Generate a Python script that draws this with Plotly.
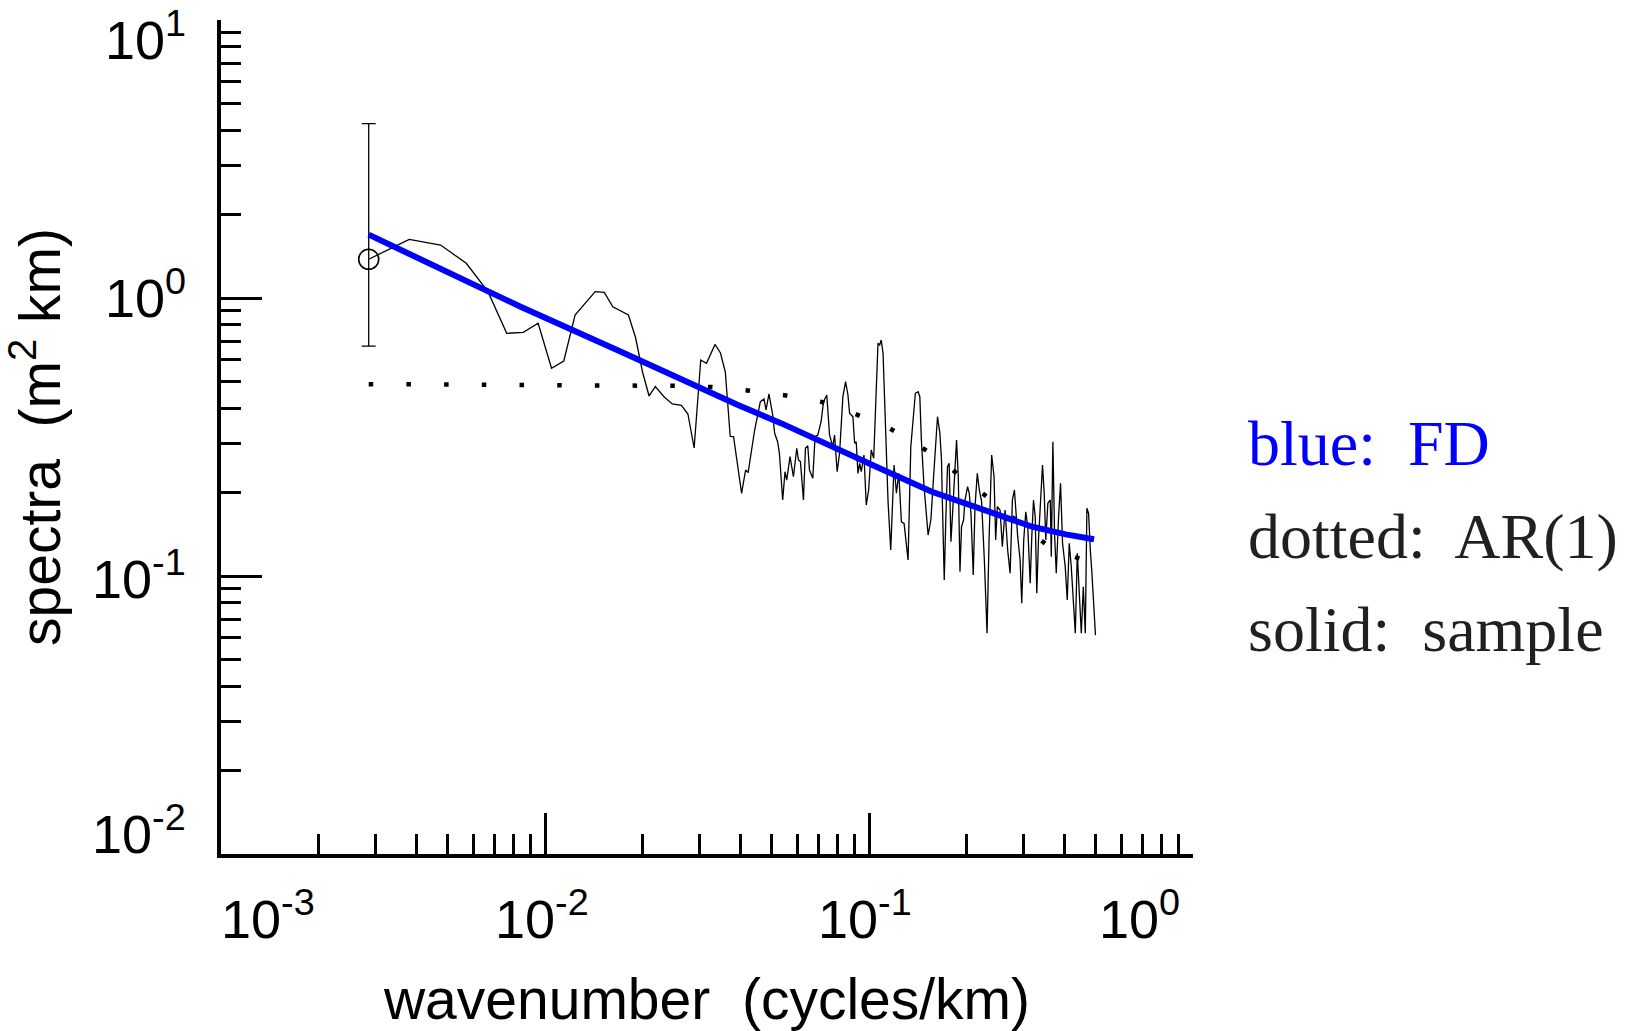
import plotly.graph_objects as go

# ---------------- data ----------------
# sample spectrum (solid black)
sample_k_a = [0.002857, 0.003810, 0.004762, 0.005714, 0.006667, 0.007619, 0.008571, 0.009524, 0.010476, 0.011429,
              0.012381, 0.014286, 0.015238, 0.016190, 0.018095, 0.019048, 0.020000, 0.020952, 0.021905, 0.02333,
              0.02472, 0.02636, 0.02761, 0.02886, 0.03025, 0.03151, 0.03347, 0.03480, 0.03602, 0.03730,
              0.03819, 0.04043, 0.04161, 0.04236, 0.04437, 0.04620, 0.04741, 0.04810, 0.04912, 0.05044,
              0.05115, 0.05226]
sample_s_a = [1.378, 1.626, 1.551, 1.333, 1.054, 0.7464, 0.7526, 0.8110, 0.5587, 0.5934,
              0.8685, 1.054, 1.047, 0.9304, 0.8685, 0.7179, 0.5418, 0.4442, 0.4797, 0.4405,
              0.4157, 0.4106, 0.3826, 0.2887, 0.5984, 0.5822, 0.6805, 0.6342, 0.5418, 0.3176,
              0.3171, 0.1984, 0.2406, 0.2356, 0.3351, 0.4236, 0.4332, 0.3955, 0.4516, 0.3794,
              0.3262, 0.3034]
sample_k_b = [0.05290, 0.05415, 0.05505, 0.05573, 0.05705, 0.05845, 0.05985, 0.06057, 0.06143, 0.06276,
              0.06367, 0.06472, 0.06551, 0.06707, 0.06817, 0.06950, 0.07115, 0.07237, 0.07409, 0.07554,
              0.07733, 0.07829, 0.07974, 0.08113, 0.08306, 0.08467, 0.08610, 0.08713, 0.08920, 0.09029,
              0.09131, 0.09244, 0.09357, 0.09464, 0.09648, 0.09807, 0.09975, 0.1016, 0.1034, 0.1053,
              0.1066, 0.1079, 0.1091, 0.1105, 0.1123, 0.1145, 0.1167, 0.1180, 0.1195, 0.1206,
              0.1215, 0.1236]
sample_s_b = [0.2763, 0.1877, 0.2372, 0.2214, 0.2686, 0.2276, 0.2880, 0.2614, 0.2578, 0.1877,
              0.2880, 0.2942, 0.2406, 0.2246, 0.3171, 0.3215, 0.3589, 0.4236, 0.4478, 0.3215,
              0.2918, 0.3215, 0.2372, 0.2763, 0.4416, 0.4999, 0.4478, 0.3849, 0.3741, 0.3001,
              0.3042, 0.2340, 0.2543, 0.2372, 0.2724, 0.1800, 0.2039, 0.2839, 0.2651, 0.5210,
              0.6874, 0.6776, 0.7062, 0.6326, 0.3444, 0.1851, 0.1240, 0.1877, 0.2508, 0.2214,
              0.1984, 0.2340]
sample_k_c = [0.1259, 0.1283, 0.1320, 0.1346, 0.1378, 0.1390, 0.1418, 0.1435, 0.1451, 0.1479,
              0.1522, 0.1552, 0.1578, 0.1597, 0.1627, 0.1655, 0.1674, 0.1682, 0.1707, 0.1727,
              0.1747, 0.1768, 0.1790, 0.1811, 0.1842, 0.1863, 0.1886, 0.1909, 0.1930, 0.1958,
              0.1978, 0.2015, 0.2039, 0.2064, 0.2098, 0.2124, 0.2159, 0.2190, 0.2226, 0.2270,
              0.2314, 0.2347, 0.2391, 0.2432, 0.2460, 0.2490]
sample_s_c = [0.1567, 0.1547, 0.1142, 0.2918, 0.4123, 0.4542, 0.4602, 0.4416, 0.3084, 0.2095,
              0.1404, 0.1590, 0.2157, 0.2614, 0.3741, 0.3262, 0.2614, 0.1984, 0.0967, 0.1634,
              0.2473, 0.2543, 0.1329, 0.1680, 0.2614, 0.3084, 0.2276, 0.1036, 0.1504, 0.1590,
              0.1877, 0.2095, 0.1984, 0.1680, 0.1008, 0.1775, 0.2340, 0.2039, 0.1851, 0.1142,
              0.0622, 0.1348, 0.2724, 0.2276, 0.1348, 0.1775]
sample_k_d = [0.2538, 0.2580, 0.2630, 0.2679, 0.2726, 0.2771, 0.2811, 0.2845, 0.2877, 0.2927,
              0.2961, 0.3003, 0.3047, 0.3090, 0.3144, 0.3180, 0.3219, 0.3258, 0.3295, 0.3335,
              0.3375, 0.3432, 0.3473, 0.3513, 0.3565, 0.3627, 0.3653, 0.3694, 0.3738, 0.3784,
              0.3847, 0.3901, 0.3957, 0.4033, 0.4091, 0.4150, 0.4210, 0.4271, 0.4332, 0.4394,
              0.4457, 0.4521, 0.4586, 0.4651, 0.4705, 0.4762, 0.4820, 0.4876, 0.5000]
sample_s_d = [0.1728, 0.1274, 0.1728, 0.1240, 0.1023, 0.1877, 0.2039, 0.1634, 0.1385, 0.1142,
              0.0798, 0.1348, 0.1703, 0.1504, 0.0941, 0.1385, 0.1877, 0.1634, 0.0867, 0.1348,
              0.1728, 0.2508, 0.1984, 0.1348, 0.1826, 0.1877, 0.1173, 0.3042, 0.1424, 0.1023,
              0.1634, 0.2157, 0.1311, 0.1080, 0.0820, 0.1311, 0.1080, 0.0798, 0.0622, 0.1207,
              0.0867, 0.0622, 0.0915, 0.0622, 0.1752, 0.1680, 0.1240, 0.1023, 0.0613]

sample_k = sample_k_a + sample_k_b + sample_k_c + sample_k_d
sample_s = sample_s_a + sample_s_b + sample_s_c + sample_s_d

# FD model spectrum (blue)
fd_k = [0.002857, 0.004645, 0.008409, 0.01716, 0.0245, 0.0394, 0.0537, 0.0804, 0.1095, 0.1563,
        0.2233, 0.3190, 0.4046, 0.4950]
fd_s = [1.69, 1.296, 0.930, 0.641, 0.528, 0.412, 0.354, 0.284, 0.242, 0.201,
        0.1738, 0.1504, 0.1412, 0.1355]

# AR(1) spectrum (dotted)
ar_k = [0.002857, 0.0192, 0.0251, 0.0328, 0.0428, 0.0555, 0.0714, 0.0905, 0.114, 0.1395,
        0.168, 0.198, 0.222, 0.364, 0.5]
ar_s = [0.490, 0.486, 0.483, 0.478, 0.464, 0.446, 0.423, 0.383, 0.343, 0.300,
        0.259, 0.221, 0.200, 0.126, 0.110]

# confidence bar at the lowest wavenumber
err_k = [0.002857]
err_mid = [1.378]
err_hi = [4.24]
err_lo = [0.671]

# axis ticks
x_major = [0.001, 0.01, 0.1, 1.0]
y_major = [0.01, 0.1, 1.0, 10.0]
x_minor = [m * d for d in (0.001, 0.01, 0.1) for m in range(2, 10)]
y_minor = [m * d for d in (0.01, 0.1, 1.0) for m in range(2, 10)]
x_tick_text = ["10<sup>-3</sup>", "10<sup>-2</sup>", "10<sup>-1</sup>", "10<sup>0</sup>"]
y_tick_text = ["10<sup>-2</sup>", "10<sup>-1</sup>", "10<sup>0</sup>", "10<sup>1</sup>"]
x_tick_log = [-3, -2, -1, 0]
y_tick_log = [-2, -1, 0, 1]
x_label_shift = [47, -3, -4, -54]
y_label_shift = [24, 1, 4, -16]

legend_lines = ["blue:\u00a0 FD", "dotted:\u00a0 AR(1)", "solid:\u00a0 sample"]
legend_colors = ["#0000FF", "#231F20", "#231F20"]
legend_y = [0.492, 0.381, 0.269]

SANS = "Liberation Sans, Arial, Helvetica, sans-serif"
SERIF = "Liberation Serif, Times New Roman, serif"

fig = go.Figure()

fig.add_trace(go.Scatter(
    x=ar_k, y=ar_s, mode="lines",
    line=dict(color="black", width=4.5, dash="4.5px,33.2px"),
    hoverinfo="skip"))

fig.add_trace(go.Scatter(
    x=sample_k, y=sample_s, mode="lines",
    line=dict(color="black", width=1.3)))

fig.add_trace(go.Scatter(
    x=err_k, y=err_mid, mode="markers",
    marker=dict(symbol="circle-open", size=20, color="black", line=dict(width=1.6)),
    error_y=dict(type="data", symmetric=False,
                 array=[h - m for h, m in zip(err_hi, err_mid)],
                 arrayminus=[m - l for m, l in zip(err_mid, err_lo)],
                 color="black", thickness=1.3, width=7)))

fig.add_trace(go.Scatter(
    x=fd_k, y=fd_s, mode="lines",
    line=dict(color="#0000FF", width=6)))

axis_common = dict(
    type="log", showline=True, linecolor="black", linewidth=4,
    ticks="inside", ticklen=41, tickwidth=3.3, tickcolor="black",
    tickmode="array", showticklabels=False, showgrid=False, zeroline=False,
    mirror=False,
)

fig.update_xaxes(
    **axis_common, range=[-3, 0], tickvals=x_major,
    minor=dict(tickmode="array", tickvals=x_minor, ticks="inside", ticklen=20,
               tickwidth=3.3, tickcolor="black", showgrid=False),
    title=dict(text="wavenumber\u00a0 (cycles/km)", font=dict(family=SANS, size=57, color="black"),
               standoff=123),
)
fig.update_yaxes(
    **axis_common, range=[-2, 1], tickvals=y_major,
    minor=dict(tickmode="array", tickvals=y_minor, ticks="inside", ticklen=20,
               tickwidth=3.3, tickcolor="black", showgrid=False),
    title=dict(text="spectra\u00a0 (m<sup>2</sup> km)", font=dict(family=SANS, size=57, color="black"),
               standoff=139),
)

annotations = []
for t, lv, sh in zip(x_tick_text, x_tick_log, x_label_shift):
    annotations.append(dict(
        text=t, x=lv, xref="x", y=0, yref="paper", xanchor="center", yanchor="top",
        xshift=sh, yshift=-25, showarrow=False,
        font=dict(family=SANS, size=54, color="black")))
for t, lv, sh in zip(y_tick_text, y_tick_log, y_label_shift):
    annotations.append(dict(
        text=t, x=0, xref="paper", y=lv, yref="y", xanchor="right", yanchor="middle",
        xshift=-33, yshift=sh, showarrow=False,
        font=dict(family=SANS, size=54, color="black")))
for t, c, yy in zip(legend_lines, legend_colors, legend_y):
    annotations.append(dict(
        text=t, x=1.0545, xref="paper", y=yy, yref="paper", xanchor="left", yanchor="middle",
        showarrow=False, font=dict(family=SERIF, size=64, color=c)))

fig.update_layout(
    width=1629, height=1031,
    margin=dict(l=221, r=436, t=20, b=177, pad=0),
    plot_bgcolor="white", paper_bgcolor="white",
    showlegend=False,
    font=dict(family=SANS, color="black"),
    annotations=annotations,
)

fig.write_html("out.html", config={"displayModeBar": False},
               post_script="document.body.style.margin='0px';")
